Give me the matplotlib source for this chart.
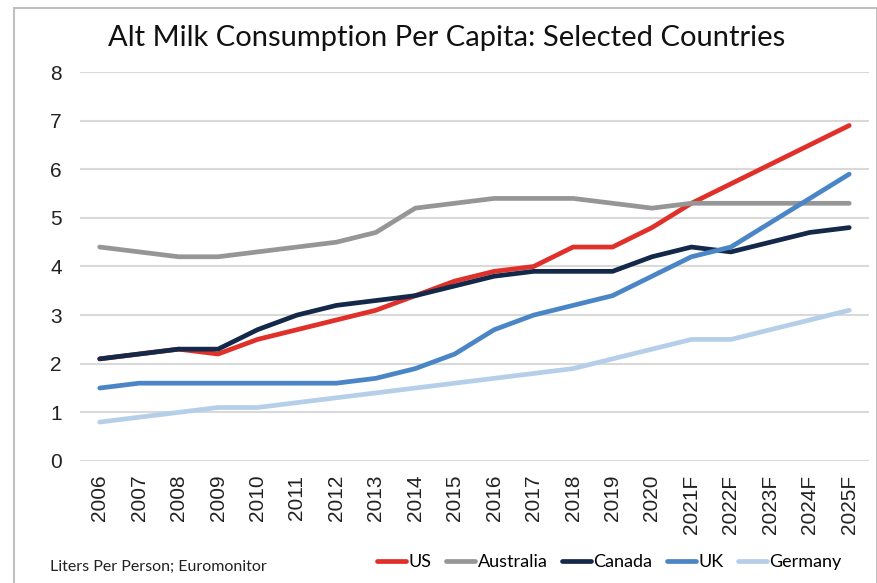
import matplotlib.pyplot as plt
from matplotlib.patches import Rectangle

years = ['2006', '2007', '2008', '2009', '2010', '2011', '2012', '2013', '2014', '2015',
         '2016', '2017', '2018', '2019', '2020', '2021F', '2022F', '2023F', '2024F', '2025F']

us = [2.1, 2.2, 2.3, 2.2, 2.5, 2.7, 2.9, 3.1, 3.4, 3.7, 3.9, 4.0, 4.4, 4.4, 4.8, 5.3, 5.7, 6.1, 6.5, 6.9]
australia = [4.4, 4.3, 4.2, 4.2, 4.3, 4.4, 4.5, 4.7, 5.2, 5.3, 5.4, 5.4, 5.4, 5.3, 5.2, 5.3, 5.3, 5.3, 5.3, 5.3]
canada = [2.1, 2.2, 2.3, 2.3, 2.7, 3.0, 3.2, 3.3, 3.4, 3.6, 3.8, 3.9, 3.9, 3.9, 4.2, 4.4, 4.3, 4.5, 4.7, 4.8]
uk = [1.5, 1.6, 1.6, 1.6, 1.6, 1.6, 1.6, 1.7, 1.9, 2.2, 2.7, 3.0, 3.2, 3.4, 3.8, 4.2, 4.4, 4.9, 5.4, 5.9]
germany = [0.8, 0.9, 1.0, 1.1, 1.1, 1.2, 1.3, 1.4, 1.5, 1.6, 1.7, 1.8, 1.9, 2.1, 2.3, 2.5, 2.5, 2.7, 2.9, 3.1]

series = [
    ('US', us, '#E0302A'),
    ('Australia', australia, '#969696'),
    ('Canada', canada, '#14294A'),
    ('UK', uk, '#4A86C6'),
    ('Germany', germany, '#B6CFE8'),
]

fig = plt.figure(figsize=(8.78, 5.83), dpi=100)
ax = fig.add_axes([0.0911, 0.2093, 0.8986, 0.6672])

x = range(len(years))
for name, vals, col in series:
    ax.plot(x, vals, color=col, linewidth=3.4, label=name, solid_capstyle='round')

ax.set_xlim(-0.5, len(years) - 0.5)
ax.set_ylim(0, 8)
ax.set_yticks(range(0, 9))
ax.set_xticks(list(x))
ax.set_xticklabels(years, rotation=90, fontfamily='Liberation Sans', fontsize=15)
for lab in ax.get_yticklabels():
    lab.set_fontfamily('Liberation Sans')
    lab.set_fontsize(15)
ax.tick_params(axis='y', length=0, pad=13, colors='#222222')
ax.tick_params(axis='x', length=0, pad=10, colors='#222222')

ax.grid(axis='y', color='#D9D9D9', linewidth=1.5)
ax.set_axisbelow(True)
for s in ax.spines.values():
    s.set_visible(False)

fig.text(0.509, 0.935, 'Alt Milk Consumption Per Capita: Selected Countries',
         ha='center', va='center', fontfamily='Lato', fontsize=21, color='#111111')
fig.text(0.057, 0.027, 'Liters Per Person; Euromonitor', ha='left', va='center',
         fontfamily='Lato', fontsize=11.5, color='#222222')

leg = fig.legend(loc='center', bbox_to_anchor=(0.694, 0.036), ncol=5, frameon=False,
                 prop={'family': 'Lato', 'size': 13}, handlelength=1.6, handletextpad=0.15,
                 columnspacing=0.8, borderpad=0)

# outer frame
fig.patches.append(Rectangle((14 / 878, -0.05), (877 - 14) / 878, 1 - 8 / 583 + 0.05,
                             transform=fig.transFigure, fill=False,
                             edgecolor='#C0C0C0', linewidth=1.5))

fig.savefig('out.png', dpi=100)
